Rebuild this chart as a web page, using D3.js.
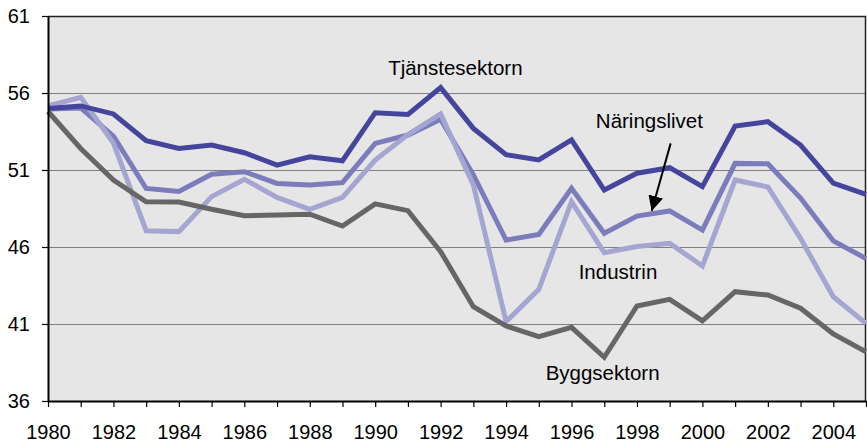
<!DOCTYPE html>
<html>
<head>
<meta charset="utf-8">
<script src="https://cdn.jsdelivr.net/npm/d3@7"></script>
<style>
  body { margin: 0; background: #fff; }
  text { font-family: "Liberation Sans", Arial, sans-serif; fill: #000; }
</style>
</head>
<body>
<svg class="chart"></svg>
<script>
// data
var years = d3.range(1980, 2006);
var tickYears = [1980,1982,1984,1986,1988,1990,1992,1994,1996,1998,2000,2002,2004];
var yTicks = [36,41,46,51,56,61];

var tjanste = [55.0,55.16,54.64,52.9,52.4,52.62,52.12,51.32,51.86,51.6,54.72,54.61,56.35,53.7,52.0,51.65,52.95,49.7,50.79,51.15,49.92,53.86,54.14,52.62,50.15,49.42];
var naring  = [54.96,55.03,53.2,49.8,49.6,50.72,50.89,50.13,50.03,50.18,52.73,53.27,54.29,50.68,46.45,46.82,49.81,46.89,48.01,48.34,47.1,51.43,51.4,49.18,46.4,45.25];
var industri= [55.16,55.72,52.75,47.06,47.0,49.27,50.4,49.22,48.45,49.22,51.65,53.3,54.64,50.03,41.15,43.25,48.94,45.63,46.03,46.24,44.77,50.35,49.9,46.56,42.77,41.04];
var bygg    = [54.8,52.4,50.35,48.94,48.92,48.45,48.03,48.08,48.13,47.36,48.8,48.36,45.7,42.12,40.87,40.18,40.78,38.84,42.17,42.6,41.21,43.1,42.88,42.02,40.35,39.2];

var series = [
  {name: "Näringslivet", values: naring, color: "#7c7cbd"},
  {name: "Industrin", values: industri, color: "#a5a5d2"},
  {name: "Tjänstesektorn", values: tjanste, color: "#45459d"},
  {name: "Byggsektorn", values: bygg, color: "#666666"}
];

// label spots, in data units
var labels = [
  {text: "Tjänstesektorn", year: 1992.45, value: 57.17},
  {text: "Näringslivet", year: 1998.38, value: 53.73},
  {text: "Industrin", year: 1997.42, value: 43.92},
  {text: "Byggsektorn", year: 1996.95, value: 37.36}
];
var arrowFrom = [1999.03, 52.73];
var arrowTo = [1998.45, 48.34];

var gwidth = 867, gheight = 444;
var margin = {top: 16, right: 1, bottom: 43, left: 48},
    width = gwidth - margin.left - margin.right,
    height = gheight - margin.top - margin.bottom;

var svg = d3.select(".chart")
  .attr("width", gwidth)
  .attr("height", gheight);

svg.append("defs").append("marker")
  .attr("id", "arrowhead")
  .attr("viewBox", "0 0 10 10")
  .attr("refX", 10).attr("refY", 5)
  .attr("markerUnits", "userSpaceOnUse")
  .attr("markerWidth", 15).attr("markerHeight", 15)
  .attr("orient", "auto")
  .append("path")
  .attr("d", "M0,0 L10,5 L0,10 z")
  .attr("fill", "#000");

var chart = svg.append("g")
  .attr("transform", "translate(" + margin.left + "," + margin.top + ")");

var x = d3.scaleLinear().domain([1980, 2005]).range([0, width]);
var y = d3.scaleLinear().domain([36, 61]).range([height, 0]);

chart.append("rect")
  .attr("width", width)
  .attr("height", height)
  .attr("fill", "#e6e6e6");

// horizontal grid
chart.append("g")
  .selectAll("line")
  .data(yTicks.slice(1, -1))
  .enter().append("line")
  .attr("x1", 0).attr("x2", width)
  .attr("y1", function(d) { return y(d) + 0.5; })
  .attr("y2", function(d) { return y(d) + 0.5; })
  .attr("stroke", "#7f7f7f")
  .attr("stroke-width", 1);

// frame: top and right
chart.append("path")
  .attr("d", "M0,0.5H" + (width - 0.5) + "V" + height)
  .attr("fill", "none")
  .attr("stroke", "#222")
  .attr("stroke-width", 1.5);

var line = d3.line()
  .x(function(d, i) { return x(years[i]); })
  .y(function(d) { return y(d); });

chart.append("g")
  .selectAll("path")
  .data(series)
  .enter().append("path")
  .attr("d", function(d) { return line(d.values); })
  .attr("fill", "none")
  .attr("stroke", function(d) { return d.color; })
  .attr("stroke-width", 5)
  .attr("stroke-linejoin", "miter")
  .attr("stroke-miterlimit", 3);

var xAxis = d3.axisBottom(x)
  .tickValues(years)
  .tickSize(6)
  .tickSizeOuter(0)
  .tickFormat(function(d) { return tickYears.indexOf(d) >= 0 ? d : ""; });
var yAxis = d3.axisLeft(y)
  .tickValues(yTicks)
  .tickSize(6)
  .tickSizeOuter(0);

var xaxis = chart.append("g")
  .attr("transform", "translate(0," + height + ")")
  .call(xAxis);
var yaxis = chart.append("g")
  .call(yAxis);

[xaxis, yaxis].forEach(function(a) {
  a.select(".domain").attr("stroke", "#000").attr("stroke-width", 2);
  a.selectAll(".tick line").attr("stroke", "#000").attr("stroke-width", 1.2);
  a.selectAll(".tick text")
    .attr("font-size", "20px")
    .attr("font-family", "Liberation Sans, Arial, sans-serif")
    .attr("fill", "#000");
});
xaxis.selectAll(".tick text").attr("dy", "0.71em").attr("y", 24);
yaxis.selectAll(".tick text").attr("x", -18);

chart.append("g")
  .selectAll("text")
  .data(labels)
  .enter().append("text")
  .attr("x", function(d) { return x(d.year); })
  .attr("y", function(d) { return y(d.value); })
  .attr("text-anchor", "middle")
  .attr("font-size", "20.5px")
  .text(function(d) { return d.text; });

chart.append("line")
  .attr("x1", x(arrowFrom[0])).attr("y1", y(arrowFrom[1]))
  .attr("x2", x(arrowTo[0])).attr("y2", y(arrowTo[1]))
  .attr("stroke", "#000")
  .attr("stroke-width", 2)
  .attr("marker-end", "url(#arrowhead)");
</script>
</body>
</html>
